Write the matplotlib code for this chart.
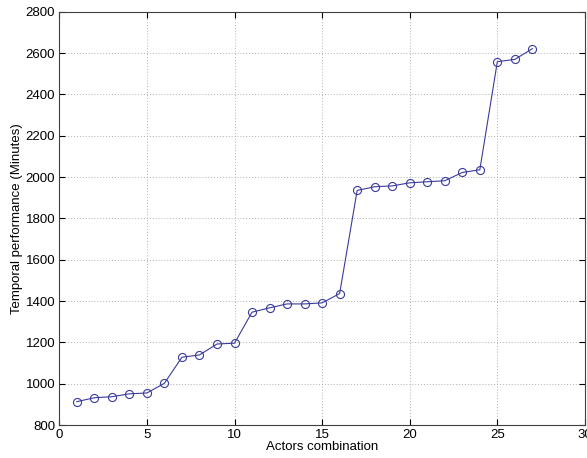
import matplotlib
matplotlib.use("Agg")
import matplotlib.pyplot as plt

plt.rcParams["font.family"] = ["Liberation Sans", "DejaVu Sans"]

# Data
combination = list(range(1, 28))
minutes = [913, 932, 937, 951, 955, 1002, 1128, 1139, 1192, 1196,
           1346, 1367, 1386, 1386, 1391, 1436, 1935, 1953, 1957, 1972,
           1977, 1982, 2022, 2035, 2558, 2569, 2621]

x_ticks = [0, 5, 10, 15, 20, 25, 30]
y_ticks = [800, 1000, 1200, 1400, 1600, 1800, 2000, 2200, 2400, 2600, 2800]

fig = plt.figure(figsize=(5.87, 4.58), dpi=100)
ax = fig.add_axes([0.101, 0.072, 0.8955, 0.9025])

ax.plot(combination, minutes, "-o", color="#3b3b9c", linewidth=0.8,
        markersize=5.8, markerfacecolor="none", markeredgewidth=0.8)

ax.set_xlim(0, 30)
ax.set_ylim(800, 2800)
ax.set_xticks(x_ticks)
ax.set_yticks(y_ticks)
ax.grid(True, linestyle=(0, (1, 2)), color="#b0b0b0", linewidth=0.7)
ax.tick_params(direction="in", labelsize=9.5, top=True, right=True,
               length=4, pad=3)
for s in ax.spines.values():
    s.set_color("#404040")
    s.set_linewidth(0.8)

ax.set_xlabel("Actors combination", fontsize=9.5, labelpad=0)
ax.set_ylabel("Temporal performance (Minutes)", fontsize=9.5, labelpad=2)

fig.savefig("out.png", dpi=100)
